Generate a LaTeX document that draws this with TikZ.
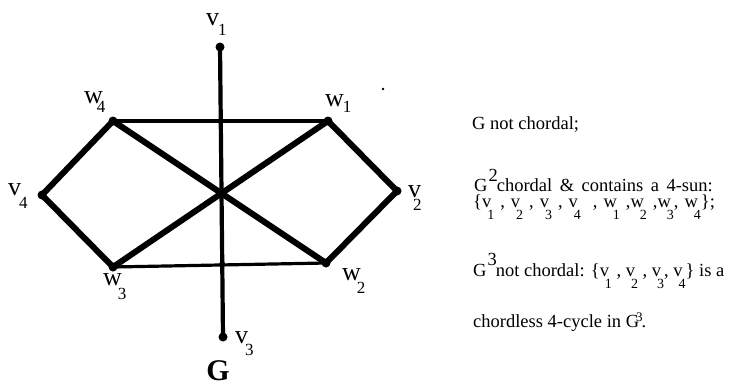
\documentclass[tikz,border=0pt]{standalone}
\usepackage{fontspec}
\setmainfont{Liberation Serif}
\newcommand\labf{\fontsize{26}{26}\selectfont}
\newcommand\subf{\fontsize{17}{17}\selectfont}
\newcommand\txtf{\fontsize{18.5}{20}\selectfont}
\newcommand\ssf{\fontsize{14}{14}\selectfont}
% letter, subscript, kern, drop
\newcommand\lbl[4]{{\labf #1}\kern#3pt\raisebox{-#4pt}{\subf #2}}
% small set element: letter with subscript beneath
\newcommand\se[2]{#1\kern-4pt\raisebox{-12pt}{\ssf #2}}
\begin{document}
\begin{tikzpicture}[x=1pt,y=-1pt,
  dot/.style={circle,fill=black,inner sep=0pt,minimum size=9pt},
  sdot/.style={circle,fill=black,inner sep=0pt,minimum size=6pt},
  thick edge/.style={line width=6pt,line cap=round},
  mid edge/.style={line width=4.2pt},
  thin edge/.style={line width=3.2pt},
  lab/.style={inner sep=0pt,anchor=base west},
  txt/.style={inner sep=0pt,anchor=base west,font=\txtf}]
\useasboundingbox (0,0) rectangle (751,386);
% vertices
\node[dot] (v1) at (220,47) {};
\node[dot] (w4) at (113,121) {};
\node[dot] (w1) at (328,121) {};
\node[dot] (v4) at (42,195) {};
\node[dot] (v2) at (397,191) {};
\node[dot] (w3) at (113,267) {};
\node[dot] (w2) at (326,263) {};
\node[dot] (v3) at (223,337) {};
\coordinate (c) at (220,193);
\node[sdot] (x1) at (220.8,121) {};
\node[sdot] (x2) at (222.2,264) {};
\node[circle,fill=black,inner sep=0pt,minimum size=2.6pt] (sp) at (383,89) {};
% edges
\draw[thin edge] (w4.center) -- (w1.center);
\draw[thin edge] (w3.center) -- (w2.center);
\draw[mid edge] (v1.center) -- (v3.center);
\draw[thick edge] (w4.center) -- (v4.center) -- (w3.center);
\draw[thick edge] (w1.center) -- (v2.center) -- (w2.center);
\draw[thick edge] (w4.center) -- (w2.center);
\draw[thick edge] (w1.center) -- (w3.center);
\node[sdot] at (c) {};
% labels
\node[lab] (lv1) at (206,25) {\lbl{v}{1}{-1}{10}};
\node[lab] (lw4) at (84,103) {\lbl{w}{4}{-6}{9}};
\node[lab] (lw1) at (325,106) {\lbl{w}{1}{-1}{6}};
\node[lab] (lv4) at (8,195) {\lbl{v}{4}{-2}{13}};
\node[lab] (lv2) at (408,197) {\lbl{v}{2}{-8}{13}};
\node[lab] (lw3) at (103,285) {\lbl{w}{3}{-4}{14}};
\node[lab] (lw2) at (342,280) {\lbl{w}{2}{-4}{13}};
\node[lab] (lv3) at (235,343) {\lbl{v}{3}{-3}{12}};
\node[inner sep=0pt,anchor=base,font=\fontsize{30}{30}\selectfont\bfseries] (g) at (218,380) {G};
% text
\node[txt] (t1) at (472,129) {G not chordal;};
\node[txt] (t2) at (474,191) {\spaceskip=7.5pt G\kern1pt\raisebox{10pt}{2}\kern-1pt chordal \& contains a 4-sun:};
\node[txt] (t3) at (473,207) {\spaceskip=6pt \{\se{v}{1} , \se{v}{2} , \se{v}{3} , \se{v}{4}\ \ , \se{w}{1} ,\se{w}{2} ,\se{w}{3}, \se{w}{4}\};};
\node[txt] (t4) at (473,276) {G\kern1pt\raisebox{11pt}{3}\kern-1pt not chordal: \{\se{v}{1} , \se{v}{2} , \se{v}{3}, \se{v}{4}\} is a};
\node[txt] (t5) at (473,327) {chordless 4-cycle in G\kern-3pt\raisebox{6pt}{\fontsize{13}{13}\selectfont 3}\kern-1pt.};
\end{tikzpicture}
\end{document}
